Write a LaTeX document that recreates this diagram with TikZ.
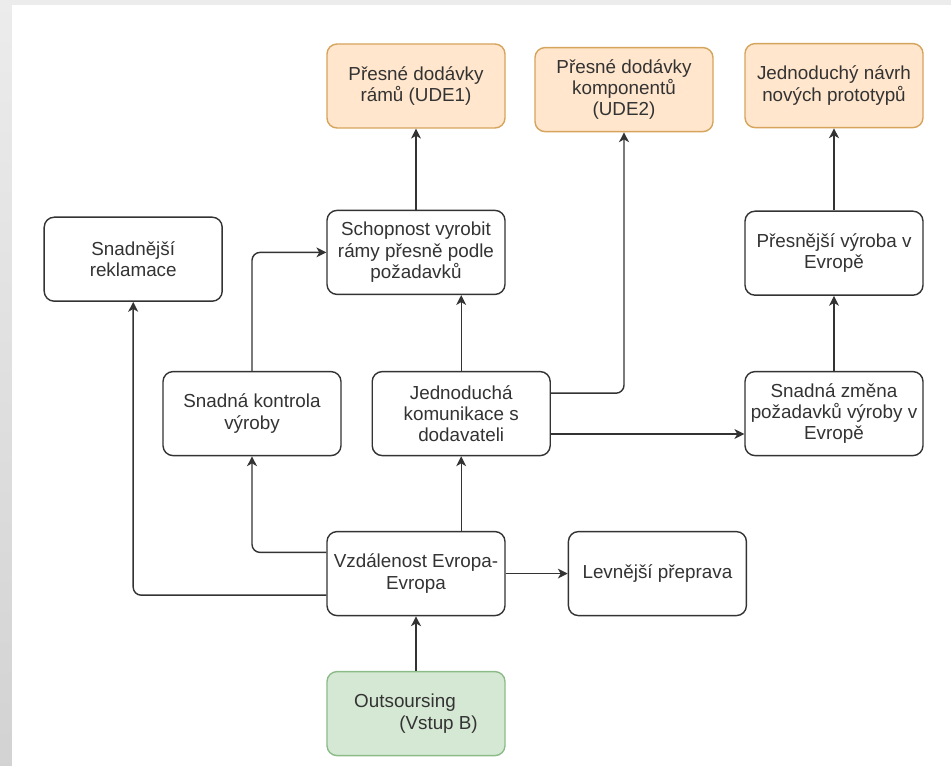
\documentclass[tikz,border=0pt]{standalone}
\usepackage{fontspec}
\setmainfont{Liberation Sans}
\usetikzlibrary{arrows.meta, calc, positioning}

\definecolor{udefill}{HTML}{FFE6CC}
\definecolor{udeline}{HTML}{D6A45C}
\definecolor{vstfill}{HTML}{D5E8D4}
\definecolor{vstline}{HTML}{8DBB88}
\definecolor{ink}{HTML}{333333}

\begin{document}
\begin{tikzpicture}[>={Stealth[length=7pt,width=7pt,inset=2pt]},
   font=\fontsize{13.4}{15.2}\selectfont,
   box/.style={draw=ink,line width=1pt,rounded corners=0.25cm,fill=white,
     minimum width=4.45cm,minimum height=2.1cm,align=center,text=ink,inner xsep=2pt},
   ude/.style={box,draw=udeline,fill=udefill},
   vstup/.style={box,draw=vstline,fill=vstfill},
   link/.style={->,draw=ink,line width=1pt,rounded corners=0.2cm}]
  % page
  \useasboundingbox (0,0) rectangle (23.775,-19.15);
  \fill[gray!15] (0,0) rectangle (23.775,-19.15);
  \shade[top color=gray!15,bottom color=gray!35] (0,0) rectangle (0.3,-19.15);
  \fill[white] (0.3,-0.125) rectangle (23.775,-19.15);
  % undesirable effects
  \node[ude] (ude1) at (10.4,-2.15) {Přesné dodávky\\rámů (UDE1)};
  \node[ude] (ude2) at (15.6,-2.24) {Přesné dodávky\\komponentů\\(UDE2)};
  \node[ude] (proto) at (20.85,-2.14) {Jednoduchý návrh\\nových prototypů};
  % middle rows
  \node[box] (schop) at (10.4,-6.31) {Schopnost vyrobit\\rámy přesně podle\\požadavků};
  \node[box] (rekl) at (3.33,-6.48) {Snadnější\\reklamace};
  \node[box] (presn) at (20.85,-6.33) {Přesnější výroba v\\Evropě};
  \node[box] (kontr) at (6.3,-10.34) {Snadná kontrola\\výroby};
  \node[box] (komun) at (11.53,-10.34) {Jednoduchá\\komunikace s\\dodavateli};
  \node[box] (zmena) at (20.85,-10.34) {Snadná změna\\požadavků výroby v\\Evropě};
  \node[box] (vzdal) at (10.4,-14.34) {Vzdálenost Evropa-\\Evropa};
  \node[box,right=1.55cm of vzdal] (levn) {Levnější přeprava};
  % input
  \node[vstup,align=right] (outs) at (10.4,-17.84) {\mbox{Outsoursing\hspace{0.55cm}}\\(Vstup B)};
  % connectors
  \draw[link] (outs) -- (vzdal);
  \draw[link] (vzdal) -- (levn);
  \draw[link] (komun.south |- vzdal.north) -- (komun);
  \draw[link] ([yshift=0.53cm]vzdal.west) -| (kontr);
  \draw[link] ([yshift=-0.54cm]vzdal.west) -| (rekl);
  \draw[link] (kontr) |- (schop);
  \draw[link] (komun) -- (komun.north |- schop.south);
  \draw[link] (schop) -- (ude1);
  \draw[link] ([yshift=0.51cm]komun.east) -| (ude2);
  \draw[link] ([yshift=-0.51cm]komun.east) -- ([yshift=-0.51cm]zmena.west);
  \draw[link] (zmena) -- (presn);
  \draw[link] (presn) -- (proto);
\end{tikzpicture}
\end{document}
